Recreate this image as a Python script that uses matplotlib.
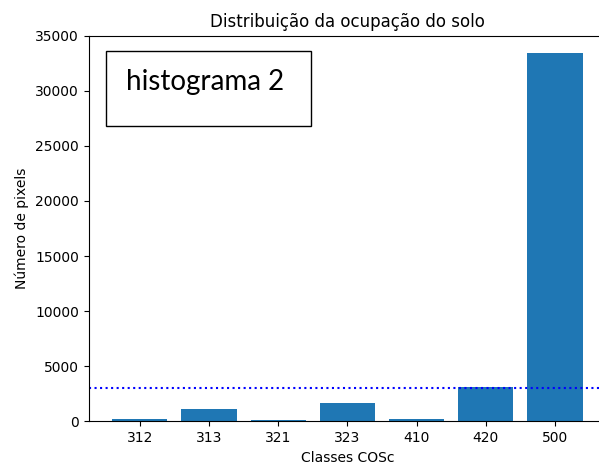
import matplotlib
matplotlib.use('Agg')
import matplotlib.pyplot as plt
from matplotlib.patches import Rectangle

# Data
classes = ['312', '313', '321', '323', '410', '420', '500']
pixels = [210, 1100, 150, 1640, 210, 3150, 33400]
threshold = 3000

fig = plt.figure(figsize=(5.99, 4.63), dpi=100)
# axes run slightly past the right edge (the reference is cropped there)
ax = fig.add_axes([88.6/599, 41.7/463, 517.6/599, 385.6/463])

ax.bar(classes, pixels, width=0.8, color='#1f77b4')
ax.axhline(threshold, color='blue', linestyle=':', linewidth=1.5)

ax.set_ylim(0, 35000)
ax.set_title('Distribuição da ocupação do solo')
ax.set_xlabel('Classes COSc')
ax.set_ylabel('Número de pixels')

# pasted label box
fig.patches.append(Rectangle((105.5/599, 337/463), 205/599, 75/463,
                             transform=fig.transFigure, facecolor='white',
                             edgecolor='black', linewidth=1))
fig.text(126/599, 373/463, 'histograma 2', fontsize=20, family='Lato',
         va='baseline', ha='left')

fig.savefig('out.png', dpi=100)
